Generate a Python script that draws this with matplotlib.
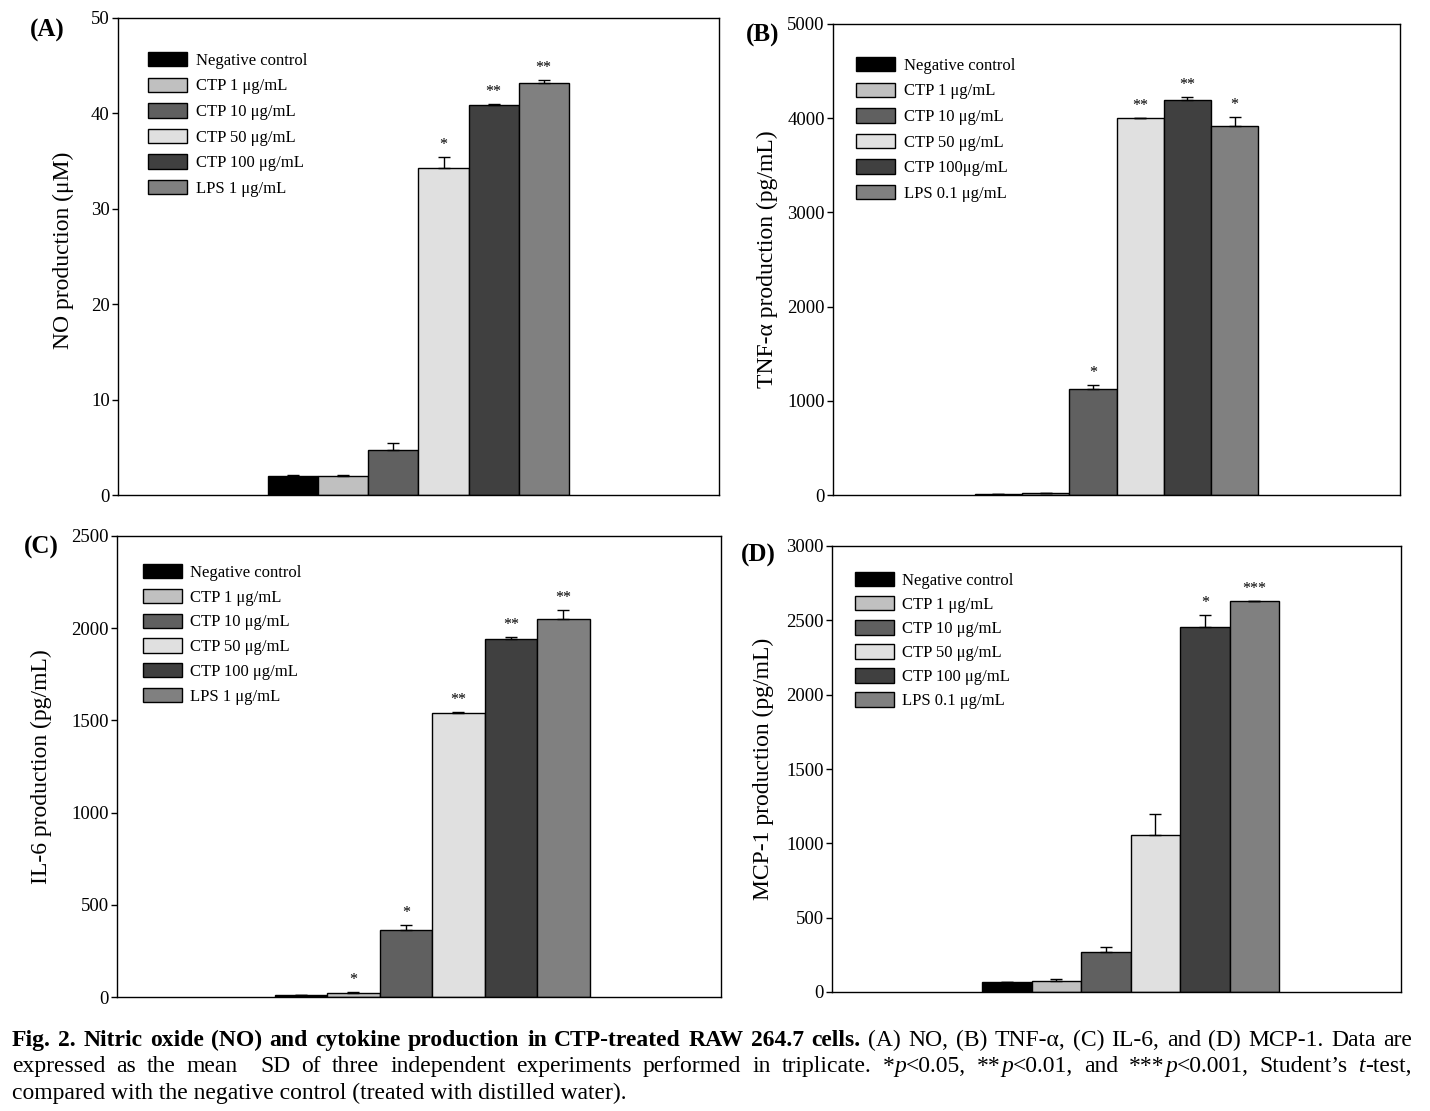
import matplotlib

matplotlib.use("Agg")
import matplotlib.pyplot as plt
import matplotlib.transforms as mtransforms
import numpy as np

plt.rcParams["font.family"] = ["Liberation Serif", "DejaVu Serif"]

W, H = 1430, 1111

# データ
colors = ["#000000", "#c0c0c0", "#606060", "#e0e0e0", "#404040", "#808080"]

labels_a = ["Negative control", "CTP 1 μg/mL", "CTP 10 μg/mL", "CTP 50 μg/mL",
            "CTP 100 μg/mL", "LPS 1 μg/mL"]
labels_b = ["Negative control", "CTP 1 μg/mL", "CTP 10 μg/mL", "CTP 50 μg/mL",
            "CTP 100μg/mL", "LPS 0.1 μg/mL"]
labels_c = ["Negative control", "CTP 1 μg/mL", "CTP 10 μg/mL", "CTP 50 μg/mL",
            "CTP 100 μg/mL", "LPS 1 μg/mL"]
labels_d = ["Negative control", "CTP 1 μg/mL", "CTP 10 μg/mL", "CTP 50 μg/mL",
            "CTP 100 μg/mL", "LPS 0.1 μg/mL"]

no_mean = [2.0, 2.0, 4.7, 34.3, 40.9, 43.2]
no_sd = [0.1, 0.1, 0.8, 1.1, 0.1, 0.3]
no_sig = ["", "", "", "*", "**", "**"]

tnf_mean = [8, 18, 1122, 4000, 4195, 3919]
tnf_sd = [2, 3, 45, 5, 32, 92]
tnf_sig = ["", "", "*", "**", "**", "*"]

il6_mean = [9, 22, 365, 1539, 1942, 2052]
il6_sd = [2, 3, 25, 5, 12, 47]
il6_sig = ["", "*", "*", "**", "**", "**"]

mcp_mean = [65, 72, 267, 1054, 2455, 2632]
mcp_sd = [0, 15, 33, 146, 81, 0]
mcp_sig = ["", "", "", "", "*", "***"]


def px_rect(l, t, r, b):
    return [l / W, (H - b) / H, (r - l) / W, (b - t) / H]


def draw_panel(rect, means, sds, sigs, labels, ymax, step, xlim,
               ylabel, ylabel_xy, tag, tag_xy, leg_xy, leg_space):
    ax = fig.add_axes(px_rect(*rect))
    x = np.arange(len(means))
    bars = ax.bar(x, means, width=1.0, color=colors, edgecolor="black",
                  linewidth=1.0, zorder=2)
    ax.errorbar(x, means, yerr=[np.zeros(len(sds)), sds], fmt="none",
                ecolor="black", elinewidth=1.0, capsize=4.5, capthick=1.0,
                zorder=3)
    for i, s in enumerate(sigs):
        if s:
            ax.annotate(s, (x[i], means[i] + sds[i]), xytext=(0, 3),
                        textcoords="offset points", ha="center", va="bottom",
                        fontsize=11.5)
    ax.set_xlim(*xlim)
    ax.set_ylim(0, ymax)
    ax.set_yticks(np.arange(0, ymax + step / 2, step))
    ax.set_xticks([])
    ax.tick_params(axis="y", direction="out", length=4, width=1, pad=2,
                   labelsize=13.5)
    for sp in ax.spines.values():
        sp.set_linewidth(1.0)

    fig.text(ylabel_xy[0] / W, 1 - ylabel_xy[1] / H, ylabel, rotation=90,
             ha="center", va="center", fontsize=17)
    fig.text(tag_xy[0] / W, 1 - tag_xy[1] / H, tag, ha="center",
             va="center", fontsize=18, fontweight="bold")

    ax.legend(bars.patches, labels, loc="upper left",
              bbox_to_anchor=(leg_xy[0] / W, 1 - leg_xy[1] / H),
              bbox_transform=fig.transFigure, frameon=False, fontsize=12,
              handlelength=2.35, handleheight=0.95, handletextpad=0.5,
              labelspacing=leg_space, borderpad=0, borderaxespad=0)
    return ax


fig = plt.figure(figsize=(W / 100, H / 100), dpi=100)

draw_panel((118, 18, 719, 495), no_mean, no_sd, no_sig, labels_a, 50, 10,
           (-3.5, 8.5), "NO production (μM)", (63, 250), "(A)", (47, 30),
           (148, 52), 0.52)
draw_panel((833, 24, 1400, 495), tnf_mean, tnf_sd, tnf_sig, labels_b, 5000,
           1000, (-3.5, 8.5), "TNF-α production (pg/mL)", (767, 259), "(B)",
           (763, 35), (856, 57), 0.52)
draw_panel((117, 536, 721, 997), il6_mean, il6_sd, il6_sig, labels_c, 2500,
           500, (-3.5, 8.0), "IL-6 production (pg/mL)", (41, 767), "(C)",
           (41, 547), (143, 564), 0.47)
draw_panel((832, 546, 1401, 992), mcp_mean, mcp_sd, mcp_sig, labels_d, 3000,
           500, (-3.53, 7.96), "MCP-1 production (pg/mL)", (763, 769), "(D)",
           (758, 555), (855, 572), 0.43)

# キャプション
ident = mtransforms.IdentityTransform()
fig.canvas.draw()
renderer = fig.canvas.get_renderer()


def put_run(x, y, text, size, weight="normal", style="normal"):
    t = fig.text(x, H - y, text, transform=ident, fontsize=size,
                 fontweight=weight, fontstyle=style, ha="left",
                 va="baseline")
    return t, t.get_window_extent(renderer).width


def word_widths(words, size):
    widths = []
    for word in words:
        w = 0
        for text, weight, style in word:
            t, tw = put_run(0, 0, text, size, weight, style)
            w += tw
            t.remove()
        widths.append(w)
    return widths


def justify(words, x0, x1, y, size):
    placed = []
    total = 0
    for word in words:
        runs = []
        w = 0
        for text, weight, style in word:
            t, tw = put_run(0, y, text, size, weight, style)
            runs.append((t, w))
            w += tw
        placed.append((runs, w))
        total += w
    gap = (x1 - x0 - total) / (len(words) - 1)
    x = x0
    for runs, w in placed:
        for t, off in runs:
            t.set_x(x + off)
        x += w + gap


bold_part = "Fig. 2. Nitric oxide (NO) and cytokine production in CTP-treated RAW 264.7 cells."
norm_part = "(A) NO, (B) TNF-α, (C) IL-6, and (D) MCP-1. Data are"
line1 = [[(w, "bold", "normal")] for w in bold_part.split()] + \
        [[(w, "normal", "normal")] for w in norm_part.split()]

line2 = [[(w, "normal", "normal")] for w in "expressed as the mean".split()]
line2 += [[("", "normal", "normal")]]
line2 += [[(w, "normal", "normal")] for w in
          "SD of three independent experiments performed in triplicate.".split()]
line2 += [[("*", "normal", "normal"), ("p", "normal", "italic"), ("<0.05,", "normal", "normal")],
          [("**", "normal", "normal"), ("p", "normal", "italic"), ("<0.01,", "normal", "normal")],
          [("and", "normal", "normal")],
          [("***", "normal", "normal"), ("p", "normal", "italic"), ("<0.001,", "normal", "normal")],
          [("Student’s", "normal", "normal")],
          [("t", "normal", "italic"), ("-test,", "normal", "normal")]]

# 1行目が自然な字間で収まる文字サイズ
ref_size = 10
sp_t, sp_w = put_run(0, 0, "x x", ref_size)
xx_t, xx_w = put_run(0, 0, "xx", ref_size)
space_w = sp_w - xx_w
sp_t.remove()
xx_t.remove()
nat = sum(word_widths(line1, ref_size)) + space_w * (len(line1) - 1)
cap_size = min(ref_size * 1400 / nat, 17)

justify(line1, 12, 1412, 1046, cap_size)
justify(line2, 12, 1412, 1072, cap_size)
put_run(12, 1099, "compared with the negative control (treated with distilled water).",
        cap_size)

fig.savefig("out.png", dpi=100)
plt.close(fig)
